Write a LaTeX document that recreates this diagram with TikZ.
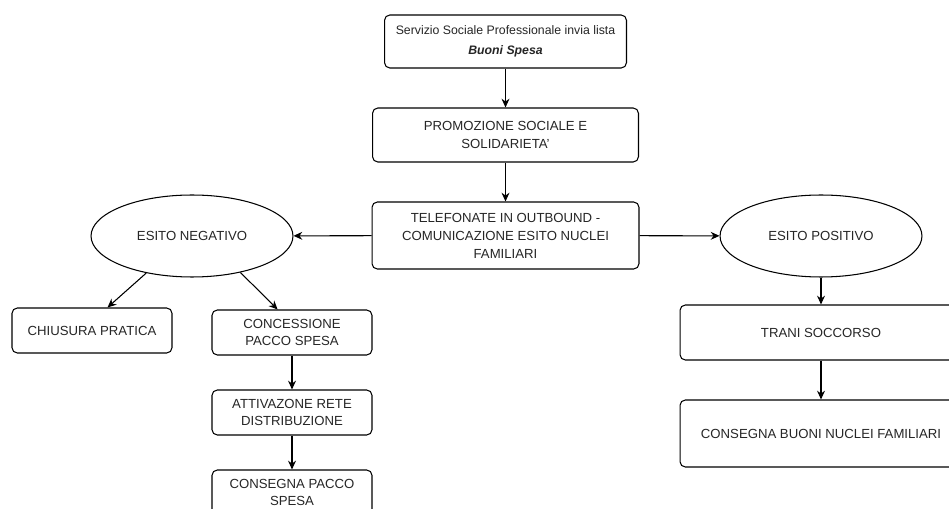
\documentclass[tikz,border=0pt]{standalone}
\usepackage{fontspec}
\setmainfont{Liberation Sans}
\usepackage{tikz}
\usetikzlibrary{positioning,arrows.meta,shapes.geometric}

\begin{document}
\begin{tikzpicture}[
  x=0.02cm, y=-0.02cm,
  font=\fontsize{7.5}{10.2}\selectfont, >=Stealth,
  box/.style={draw, rounded corners=3pt, fill=white, align=center,
              inner sep=0pt, line width=0.6pt, text=black!85},
  esito/.style={draw, ellipse, fill=white, align=center,
                inner sep=0pt, line width=0.6pt, text=black!85,
                minimum width=4.04cm, minimum height=1.64cm},
  small/.style={box, minimum width=3.2cm, minimum height=0.9cm},
  wide/.style={box, minimum width=5.64cm},
  arr/.style={line width=0.6pt, -{Stealth[length=5pt,width=4.5pt]}},
]
\useasboundingbox (0,0) rectangle (949,509);
\node[box, minimum width=4.84cm, minimum height=1.06cm, font=\fontsize{7}{10.2}\selectfont] (lista) at (505.5,41.5)
  {Servizio Sociale Professionale invia lista\\[1pt] \textbf{\textit{Buoni Spesa}}};
\node[box, minimum width=5.32cm, minimum height=1.08cm] (promo) at (505.5,135)
  {PROMOZIONE SOCIALE E\\SOLIDARIETA'};
\node[box, minimum width=5.34cm, minimum height=1.34cm] (tel) at (505.5,235.5)
  {TELEFONATE IN OUTBOUND -\\COMUNICAZIONE ESITO NUCLEI\\FAMILIARI};
\node[esito] (neg) at (192,236) {ESITO NEGATIVO};
\node[esito] (pos) at (821,236) {ESITO POSITIVO};
\node[small] (chiusura) at (92,330.5) {CHIUSURA PRATICA};
\node[small] (conc)  at (292,332.5) {CONCESSIONE\\PACCO SPESA};
\node[small] (attiv) at (292,412.5) {ATTIVAZONE RETE\\DISTRIBUZIONE};
\node[small] (consP) at (292,492.5) {CONSEGNA PACCO\\SPESA};
\node[wide, minimum height=1.1cm]  (trani) at (821,332.5) {TRANI SOCCORSO};
\node[wide, minimum height=1.34cm] (consB) at (821,433.5) {CONSEGNA BUONI NUCLEI FAMILIARI};

\draw[arr] (lista) -- (promo);
\draw[arr] (promo) -- (tel);
\draw[arr] (tel) -- (neg);
\draw[arr] (tel) -- (pos);
\draw[arr] (neg.-141) -- (chiusura.56);
\draw[arr] (neg.-37) -- (conc.122);
\draw[arr] (conc) -- (attiv);
\draw[arr] (attiv) -- (consP);
\draw[arr] (pos) -- (trani);
\draw[arr] (trani) -- (consB);
\end{tikzpicture}
\end{document}
